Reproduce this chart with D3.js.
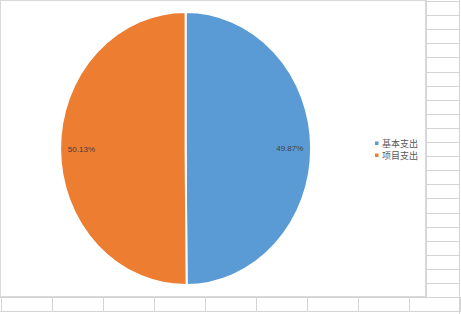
<!DOCTYPE html>
<html>
<head>
<meta charset="utf-8">
<script src="https://cdn.jsdelivr.net/npm/d3@7"></script>
<style>
  html, body { margin: 0; padding: 0; background: #fff; }
  svg { display: block; }
</style>
</head>
<body>
<div id="chart"></div>
<script>
var categories = ["基本支出", "项目支出"];
var values = [49.87, 50.13];
var colors = ["#5B9BD5", "#ED7D31"];

var width = 461, height = 314;
var svg = d3.select("#chart").append("svg")
    .attr("width", width)
    .attr("height", height);

// spreadsheet grid behind the chart
var grid = svg.append("g").attr("stroke", "#d4d4d4").attr("stroke-width", 1);
d3.range(0, 22).forEach(function(i) {
  var y = Math.round(1 + i * 14.1) + 0.5;
  grid.append("line").attr("x1", 426).attr("x2", 460).attr("y1", y).attr("y2", y);
});
grid.append("line").attr("x1", 0).attr("x2", 461).attr("y1", 297.5).attr("y2", 297.5);
grid.append("line").attr("x1", 0).attr("x2", 461).attr("y1", 311.5).attr("y2", 311.5);
grid.append("line").attr("x1", 459.5).attr("x2", 459.5).attr("y1", 0).attr("y2", 314);
grid.append("line").attr("x1", 426.5).attr("x2", 426.5).attr("y1", 0).attr("y2", 297);
d3.range(0, 10).forEach(function(i) {
  var x = Math.round(1 + i * 51.05) + 0.5;
  grid.append("line").attr("x1", x).attr("x2", x).attr("y1", 297).attr("y2", 312);
});

// chart area
svg.append("rect")
    .attr("x", 0.5).attr("y", 0.5)
    .attr("width", 425).attr("height", 296)
    .attr("fill", "#fff")
    .attr("stroke", "#d9d9d9");

var cx = 185.6, cy = 148.5, rx = 125.5, ry = 136.5;

var pie = d3.pie().sort(null).value(function(d) { return d; });
var arcs = pie(values);
var arc = d3.arc().innerRadius(0).outerRadius(rx);

var g = svg.append("g")
    .attr("transform", "translate(" + cx + "," + cy + ") scale(1," + (ry / rx) + ")");

g.selectAll("path")
    .data(arcs)
    .enter().append("path")
    .attr("d", arc)
    .attr("fill", function(d, i) { return colors[i]; })
    .attr("stroke", "#fff")
    .attr("stroke-width", 2)
    .attr("vector-effect", "non-scaling-stroke");

// data labels
svg.selectAll("text.lbl")
    .data(arcs)
    .enter().append("text")
    .attr("class", "lbl")
    .attr("x", function(d) { var a = (d.startAngle + d.endAngle) / 2; return cx + Math.sin(a) * rx * 0.83; })
    .attr("y", function(d) { var a = (d.startAngle + d.endAngle) / 2; return cy - Math.cos(a) * ry * 0.83 + 3; })
    .attr("text-anchor", "middle")
    .attr("font-family", "Liberation Sans, Arial, sans-serif")
    .attr("font-size", 8)
    .attr("fill", "#404040")
    .text(function(d) { return d.value.toFixed(2) + "%"; });

// legend
var legend = svg.append("g").attr("transform", "translate(375,139)");
var item = legend.selectAll("g")
    .data(categories)
    .enter().append("g")
    .attr("transform", function(d, i) { return "translate(0," + (i * 12) + ")"; });
item.append("rect")
    .attr("width", 3.5).attr("height", 3.5)
    .attr("y", 2.5)
    .attr("fill", function(d, i) { return colors[i]; });
item.append("text")
    .attr("x", 7).attr("y", 8)
    .attr("font-family", "Noto Sans CJK SC, sans-serif")
    .attr("font-size", 9)
    .attr("fill", "#595959")
    .text(function(d) { return d; });
</script>
</body>
</html>
